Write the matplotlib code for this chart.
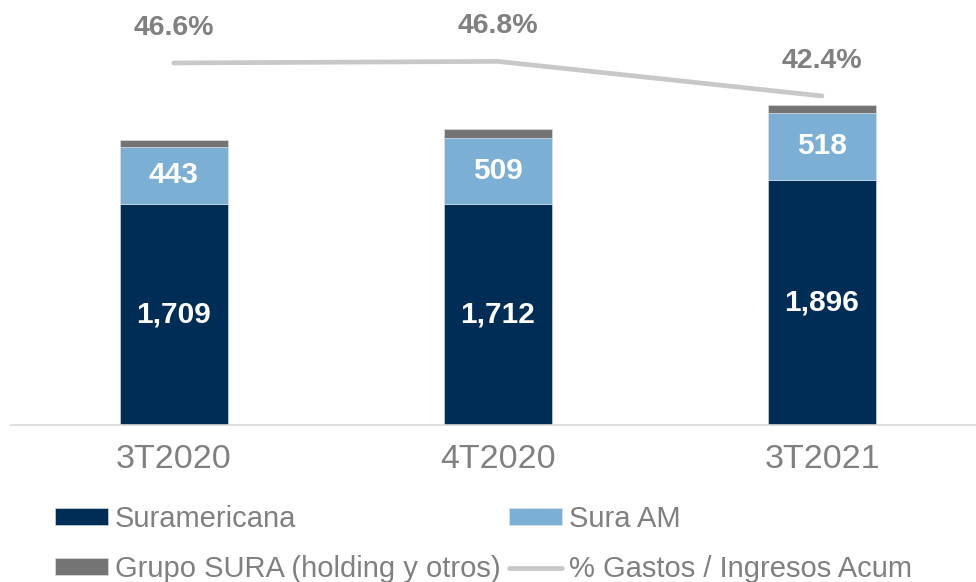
import matplotlib
matplotlib.use("Agg")
import numpy as np
import matplotlib.pyplot as plt

periods = ["3T2020", "4T2020", "3T2021"]
suramericana = [1709, 1712, 1896]
sura_am = [443, 509, 518]
grupo_sura = [55, 72, 60]
gastos_pct = [46.6, 46.8, 42.4]

c_sura = "#002d56"
c_am = "#7bafd4"
c_grupo = "#747474"
c_line = "#c8c8c8"
c_text = "#808080"

plt.rcParams["font.family"] = ["Liberation Sans", "DejaVu Sans"]

fig = plt.figure(figsize=(9.76, 5.82), dpi=100)
ax = fig.add_axes([0.011, 157 / 582, 0.99, 425 / 582])

x = np.arange(len(periods))
w = 0.333
b1 = ax.bar(x, suramericana, w, color=c_sura, label="Suramericana",
            edgecolor="#dde6ee", linewidth=0.4)
b2 = ax.bar(x, sura_am, w, bottom=suramericana, color=c_am, label="Sura AM",
            edgecolor="#dde6ee", linewidth=0.4)
bottom3 = np.array(suramericana) + np.array(sura_am)
b3 = ax.bar(x, grupo_sura, w, bottom=bottom3, color=c_grupo,
            label="Grupo SURA (holding y otros)", edgecolor="#dde6ee", linewidth=0.4)

for i in range(len(x)):
    ax.text(x[i], suramericana[i] / 2, f"{suramericana[i]:,}", ha="center", va="center",
            color="white", fontsize=21.5, fontweight="bold")
    ax.text(x[i], suramericana[i] + sura_am[i] / 2, f"{sura_am[i]:,}", ha="center",
            va="center", color="white", fontsize=21.5, fontweight="bold")

ax.set_xlim(-0.503, 2.478)
ax.set_ylim(0, 425 / 0.1293)
ax.set_yticks([])
ax.set_xticks(x)
ax.set_xticklabels(periods, fontsize=24.5, color=c_text)
ax.tick_params(axis="x", length=0, pad=14)
for s in ["top", "right", "left"]:
    ax.spines[s].set_visible(False)
ax.spines["bottom"].set_color("#d9d9d9")
ax.spines["bottom"].set_linewidth(1.2)

ax2 = ax.twinx()
ln, = ax2.plot(x, gastos_pct, color=c_line, linewidth=3.4, solid_capstyle="round",
               label="% Gastos / Ingresos Acum")
ax2.set_ylim(0.54, 0.54 + 425 / 7.86)
ax2.set_yticks([])
for s in ["top", "right", "left", "bottom"]:
    ax2.spines[s].set_visible(False)
for i in range(len(x)):
    ax2.annotate(f"{gastos_pct[i]:.1f}%", (x[i], gastos_pct[i]), xytext=(0, 16),
                 textcoords="offset points", ha="center", va="bottom",
                 fontsize=20.5, fontweight="bold", color=c_text)

# legend fills column by column, so order handles to get rows like the original
fig.legend([b1, b3, b2, ln],
           ["Suramericana", "Grupo SURA (holding y otros)", "Sura AM", "% Gastos / Ingresos Acum"],
           ncol=2, loc="upper left", bbox_to_anchor=(55 / 976, 1 - 505 / 582),
           frameon=False, fontsize=21, labelcolor=c_text, handlelength=1.8,
           handleheight=0.5, handletextpad=0.25, columnspacing=0.3, labelspacing=0.75,
           borderaxespad=0, borderpad=0)

fig.savefig("out.png", dpi=100)
